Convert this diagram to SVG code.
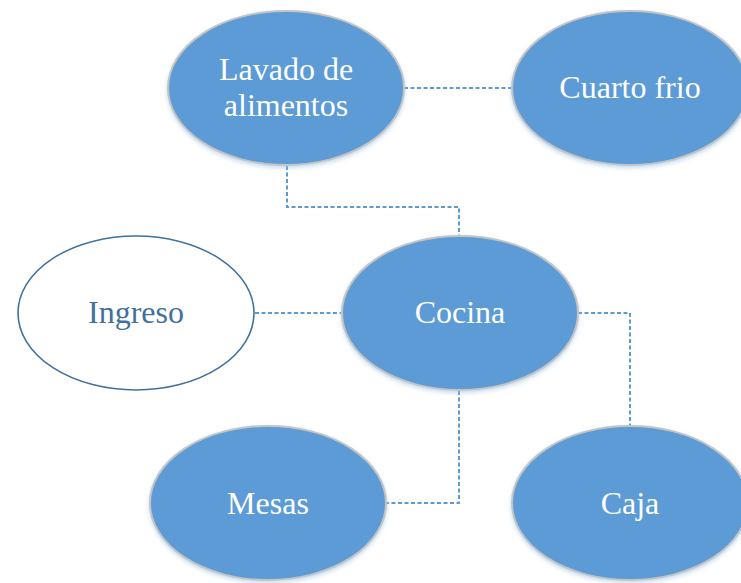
<svg xmlns="http://www.w3.org/2000/svg" width="741" height="583" viewBox="0 0 741 583">
<style>
.n{fill:#5b9bd5;stroke:#c4c4c4;stroke-width:2;filter:url(#sh)}
.w{fill:#ffffff;stroke:#41719c;stroke-width:1.6}
.t{font-family:"Liberation Serif","Times New Roman",serif;font-size:32px;fill:#ffffff;text-anchor:middle}
.tb{fill:#41719c}
.c{fill:none;stroke:#5b9bd5;stroke-width:2;stroke-dasharray:4 2.5}
</style>
<defs>
<filter id="sh" x="-10%" y="-10%" width="120%" height="125%">
<feGaussianBlur in="SourceAlpha" stdDeviation="2"/>
<feOffset dx="0" dy="2" result="b"/>
<feFlood flood-color="#9dc3e6" flood-opacity="0.6"/>
<feComposite in2="b" operator="in"/>
<feMerge><feMergeNode/><feMergeNode in="SourceGraphic"/></feMerge>
</filter>
</defs>
<rect width="741" height="583" fill="#ffffff"/>
<g id="connectors">
<path class="c" d="M404,88 H512"/>
<path class="c" d="M287,166 V207 H459 V235"/>
<path class="c" d="M255,313 H342"/>
<path class="c" d="M578,313 H630 V425"/>
<path class="c" d="M459,391 V503 H386"/>
</g>
<g id="lavado">
<ellipse class="n" cx="286" cy="88" rx="118" ry="77"/>
<text class="t" x="286" y="80">Lavado de</text>
<text class="t" x="286" y="116">alimentos</text>
</g>
<g id="cuarto">
<ellipse class="n" cx="630" cy="88" rx="118" ry="77"/>
<text class="t" x="630" y="98">Cuarto frio</text>
</g>
<g id="ingreso">
<ellipse class="w" cx="136" cy="313" rx="118" ry="77"/>
<text class="t tb" x="136" y="323">Ingreso</text>
</g>
<g id="cocina">
<ellipse class="n" cx="460" cy="313" rx="118" ry="77"/>
<text class="t" x="460" y="323">Cocina</text>
</g>
<g id="mesas">
<ellipse class="n" cx="268" cy="503" rx="118" ry="77"/>
<text class="t" x="268" y="514">Mesas</text>
</g>
<g id="caja">
<ellipse class="n" cx="630" cy="503" rx="118" ry="77"/>
<text class="t" x="630" y="514">Caja</text>
</g>
</svg>
